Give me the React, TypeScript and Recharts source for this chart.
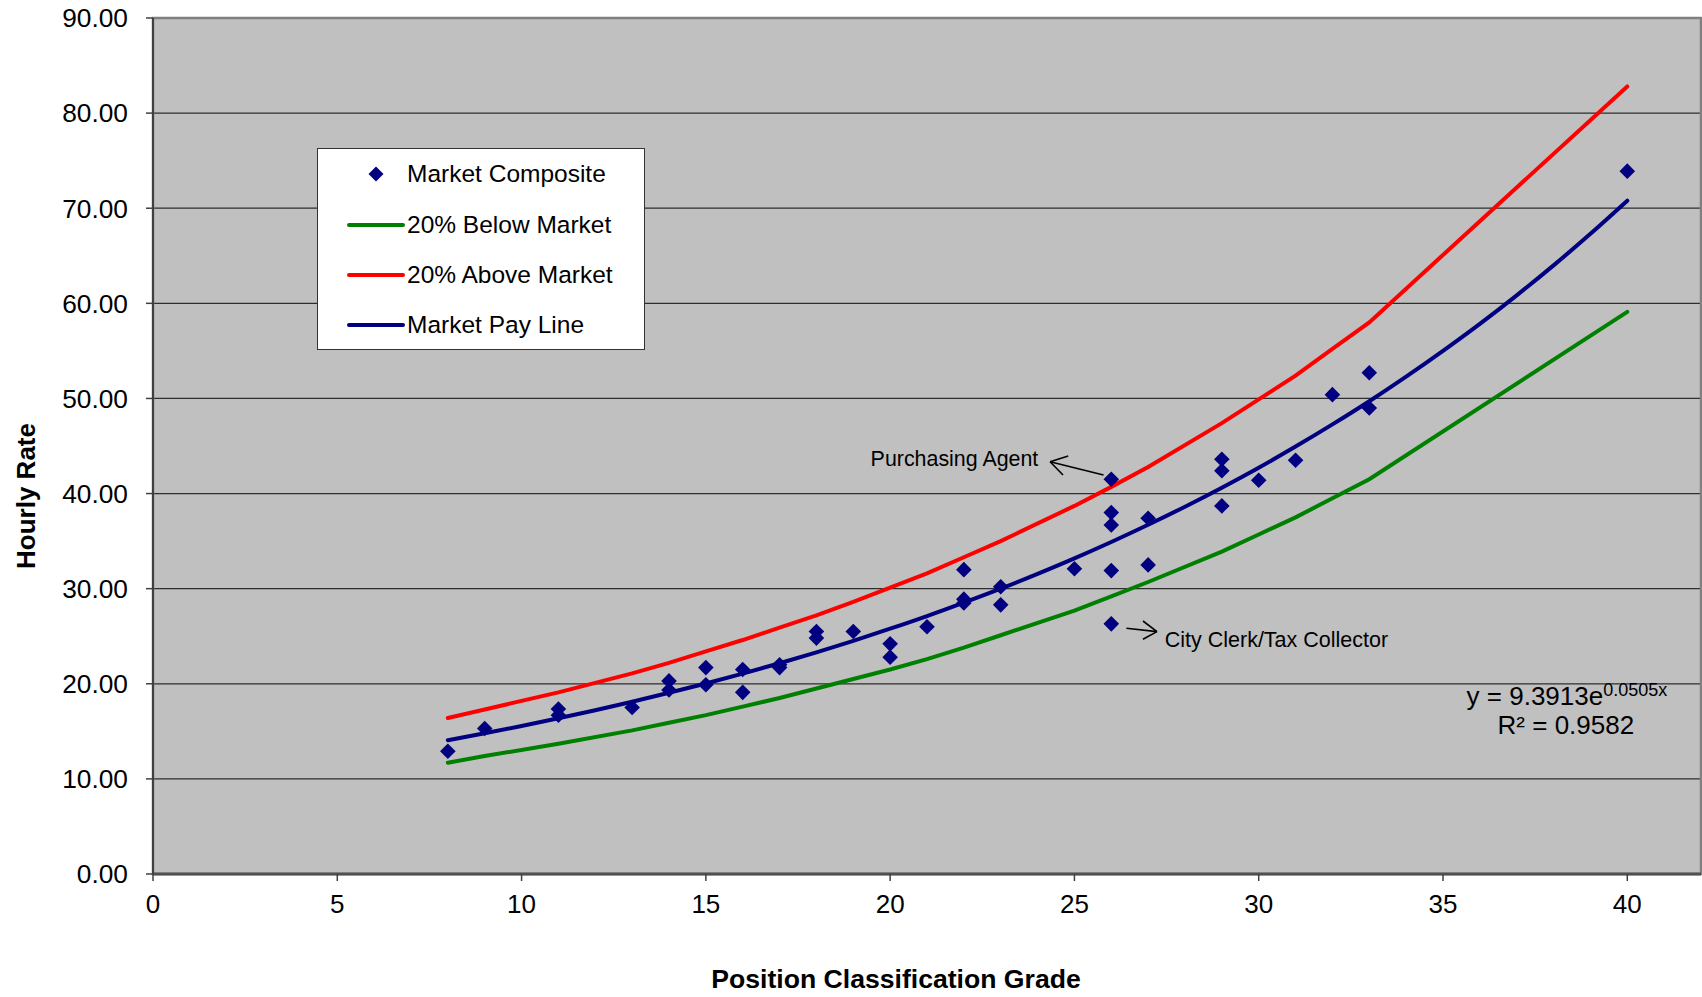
import React from 'react';
import {
  ComposedChart,
  Line,
  Scatter,
  XAxis,
  YAxis,
  CartesianGrid,
  Legend,
  ReferenceArea,
  ReferenceLine,
  ReferenceDot,
} from 'recharts';

const FONT = '"Liberation Sans", Arial, Helvetica, sans-serif';

// ---- tick labels ----
const gradeTicks = [0, 5, 10, 15, 20, 25, 30, 35, 40];
const rateTicks = [0, 10, 20, 30, 40, 50, 60, 70, 80, 90];

// ---- Market Composite (scatter) ----
const compositeGrades = [
  8, 9, 11, 11, 13, 14, 14, 15, 15, 16, 16, 17, 17, 18, 18, 19, 20, 20, 21, 22, 22, 22, 23, 23, 25,
  26, 26, 26, 26, 26, 27, 27, 29, 29, 29, 30, 31, 32, 33, 33, 40,
];
const compositeRates = [
  12.9, 15.3, 17.35, 16.7, 17.5, 20.3, 19.35, 21.7, 19.9, 21.5, 19.1, 22.0, 21.7, 25.5, 24.8, 25.5,
  24.2, 22.8, 26.0, 32.0, 28.9, 28.5, 30.2, 28.3, 32.1, 41.5, 38.0, 36.7, 31.9, 26.3, 37.4, 32.5,
  43.6, 42.4, 38.7, 41.4, 43.5, 50.4, 52.7, 49.0, 73.9,
];

// ---- 20% bands (line series) ----
const bandGrades = [8, 9, 11, 13, 14, 15, 16, 17, 18, 19, 20, 21, 22, 23, 25, 26, 27, 29, 30, 31, 32, 33, 40];
const aboveRates = [
  16.4, 17.3, 19.1, 21.1, 22.2, 23.4, 24.6, 25.9, 27.2, 28.6, 30.1, 31.6, 33.3, 35.0, 38.7, 40.7,
  42.8, 47.4, 49.9, 52.4, 55.2, 58.0, 82.8,
];
const belowRates = [
  11.7, 12.4, 13.7, 15.1, 15.9, 16.7, 17.6, 18.5, 19.5, 20.5, 21.5, 22.6, 23.8, 25.1, 27.7, 29.2,
  30.7, 33.9, 35.7, 37.5, 39.5, 41.5, 59.1,
];

// ---- Market Pay Line (trend) ----
const payGrades = [
  8, 9, 10, 11, 12, 13, 14, 15, 16, 17, 18, 19, 20, 21, 22, 23, 24, 25, 26, 27, 28, 29, 30, 31, 32,
  33, 34, 35, 36, 37, 38, 39, 40,
];
const payRates = [
  14.07, 14.8, 15.56, 16.37, 17.21, 18.11, 19.05, 20.03, 21.07, 22.16, 23.31, 24.52, 25.79, 27.12,
  28.53, 30.0, 31.56, 33.19, 34.91, 36.72, 38.62, 40.62, 42.72, 44.94, 47.27, 49.71, 52.29, 55.0,
  57.84, 60.84, 63.99, 67.31, 70.79,
];

const LEGEND_ORDER = ['Market Composite', '20% Below Market', '20% Above Market', 'Market Pay Line'];

const compositeData = compositeGrades.map((g, i) => ({ grade: g, rate: compositeRates[i] }));
const aboveData = bandGrades.map((g, i) => ({ grade: g, rate: aboveRates[i] }));
const belowData = bandGrades.map((g, i) => ({ grade: g, rate: belowRates[i] }));
const payData = payGrades.map((g, i) => ({ grade: g, rate: payRates[i] }));

const NAVY = '#000080';
const GREEN = '#008000';
const RED = '#FF0000';

const Diamond = (props: any) => {
  const { cx, cy } = props;
  if (cx == null || cy == null) return null;
  const r = 7.8;
  return <path d={`M${cx},${cy - r}L${cx + r},${cy}L${cx},${cy + r}L${cx - r},${cy}Z`} fill={NAVY} />;
};

const LegendBox = (props: any) => {
  const payload = [...(props.payload || [])].sort(
    (a: any, b: any) => LEGEND_ORDER.indexOf(a.value) - LEGEND_ORDER.indexOf(b.value)
  );
  return (
    <div
      style={{
        width: 328,
        height: 202,
        boxSizing: 'border-box',
        background: '#ffffff',
        border: '1.5px solid #333333',
        position: 'relative',
        fontFamily: FONT,
        fontSize: 24.5,
        color: '#000',
      }}
    >
      {payload.map((it: any, i: number) => {
        const isDot = it.value === 'Market Composite';
        return (
          <div
            key={it.value}
            style={{
              position: 'absolute',
              left: 0,
              top: 25.3 + i * 50.3 - 15,
              height: 30,
              display: 'flex',
              alignItems: 'center',
              whiteSpace: 'nowrap',
            }}
          >
            <svg width={89} height={30} style={{ display: 'block' }}>
              {isDot ? (
                <path d="M58,7.5L65.5,15L58,22.5L50.5,15Z" fill={it.color || NAVY} />
              ) : (
                <line x1={31} y1={15} x2={85} y2={15} stroke={it.color} strokeWidth={4} strokeLinecap="round" />
              )}
            </svg>
            <span style={{ lineHeight: '30px' }}>{it.value}</span>
          </div>
        );
      })}
    </div>
  );
};

const textLabel =
  (text: string, anchor: 'start' | 'end', size: number) =>
  (p: any) => {
    const vb = p.viewBox || {};
    const cx = (vb.x ?? 0) + (vb.width ?? 0) / 2;
    const cy = (vb.y ?? 0) + (vb.height ?? 0) / 2;
    return (
      <text x={cx} y={cy} textAnchor={anchor} dominantBaseline="central" fontFamily={FONT} fontSize={size} fill="#000">
        {text}
      </text>
    );
  };

const equationLabel = (p: any) => {
  const vb = p.viewBox || {};
  const cx = (vb.x ?? 0) + (vb.width ?? 0) / 2;
  const cy = (vb.y ?? 0) + (vb.height ?? 0) / 2;
  return (
    <g>
      <text x={cx} y={cy} fontFamily={FONT} fontSize={26} fill="#000">
        y = 9.3913e
        <tspan fontSize={18} dy={-8.5}>
          0.0505x
        </tspan>
      </text>
      <text x={cx + 31} y={cy + 29} fontFamily={FONT} fontSize={26} fill="#000">
        R² = 0.9582
      </text>
    </g>
  );
};

const arrowStyle = { stroke: '#000', strokeWidth: 1.6 };

export default function App() {
  return (
    <div style={{ position: 'absolute', left: 0, top: 0, width: 1702, height: 997, background: '#fff' }}>
      <ComposedChart width={1702} height={997} margin={{ top: 18, right: 1, bottom: 0, left: 0 }}>
        <CartesianGrid horizontal vertical={false} fill="#C0C0C0" fillOpacity={1} stroke="#2e2e2e" strokeWidth={1.3} />
        <XAxis
          type="number"
          dataKey="grade"
          domain={[0, 42]}
          ticks={gradeTicks}
          interval={0}
          allowDataOverflow
          height={123}
          tickSize={7}
          tickMargin={14}
          axisLine={{ stroke: '#505050', strokeWidth: 3 }}
          tickLine={{ stroke: '#404040', strokeWidth: 1.5 }}
          tick={{ fill: '#000', fontSize: 26, fontFamily: FONT }}
          label={{
            content: (p: any) => {
              const vb = p.viewBox || {};
              return (
                <text
                  x={vb.x + vb.width / 2 - 31}
                  y={vb.y + 114}
                  textAnchor="middle"
                  fontFamily={FONT}
                  fontWeight="bold"
                  fontSize={26.6}
                  fill="#000"
                >
                  Position Classification Grade
                </text>
              );
            },
          }}
        />
        <YAxis
          type="number"
          dataKey="rate"
          domain={[0, 90]}
          ticks={rateTicks}
          interval={0}
          allowDataOverflow
          width={153}
          tickSize={7}
          tickMargin={18}
          tickFormatter={(v: number) => v.toFixed(2)}
          axisLine={{ stroke: '#404040', strokeWidth: 2 }}
          tickLine={{ stroke: '#404040', strokeWidth: 1.5 }}
          tick={{ fill: '#000', fontSize: 26.3, fontFamily: FONT }}
          label={{
            content: (p: any) => {
              const vb = p.viewBox || {};
              const x = (vb.x ?? 0) + 26;
              const y = (vb.y ?? 0) + (vb.height ?? 0) / 2 + 50;
              return (
                <text
                  x={x}
                  y={y}
                  transform={`rotate(-90, ${x}, ${y})`}
                  textAnchor="middle"
                  dominantBaseline="central"
                  fontFamily={FONT}
                  fontWeight="bold"
                  fontSize={26}
                  fill="#000"
                >
                  Hourly Rate
                </text>
              );
            },
          }}
        />
        <ReferenceArea x1={0} x2={42} y1={0} y2={90} fill="none" fillOpacity={0} stroke="#808080" strokeWidth={2.5} />

        <Line
          data={belowData}
          dataKey="rate"
          name="20% Below Market"
          type="linear"
          stroke={GREEN}
          strokeWidth={4}
          strokeLinecap="round"
          dot={false}
          activeDot={false}
          legendType="line"
          isAnimationActive={false}
        />
        <Line
          data={aboveData}
          dataKey="rate"
          name="20% Above Market"
          type="linear"
          stroke={RED}
          strokeWidth={4}
          strokeLinecap="round"
          dot={false}
          activeDot={false}
          legendType="line"
          isAnimationActive={false}
        />
        <Line
          data={payData}
          dataKey="rate"
          name="Market Pay Line"
          type="monotone"
          stroke={NAVY}
          strokeWidth={4}
          strokeLinecap="round"
          dot={false}
          activeDot={false}
          legendType="line"
          isAnimationActive={false}
        />
        <Scatter
          data={compositeData}
          dataKey="rate"
          name="Market Composite"
          fill={NAVY}
          shape={Diamond}
          legendType="diamond"
          isAnimationActive={false}
        />

        {/* Purchasing Agent arrow */}
        <ReferenceLine segment={[{ x: 25.79, y: 41.95 }, { x: 24.34, y: 43.35 }]} {...arrowStyle} />
        <ReferenceLine segment={[{ x: 24.34, y: 43.35 }, { x: 24.69, y: 41.95 }]} {...arrowStyle} />
        <ReferenceLine segment={[{ x: 24.34, y: 43.35 }, { x: 24.83, y: 43.95 }]} {...arrowStyle} />
        <ReferenceDot
          x={24.02}
          y={43.63}
          r={1}
          fill="none"
          stroke="none"
          label={{ content: textLabel('Purchasing Agent', 'end', 21.4) }}
        />

        {/* City Clerk arrow */}
        <ReferenceLine segment={[{ x: 26.41, y: 25.83 }, { x: 27.24, y: 25.48 }]} {...arrowStyle} />
        <ReferenceLine segment={[{ x: 27.24, y: 25.48 }, { x: 26.86, y: 26.6 }]} {...arrowStyle} />
        <ReferenceLine segment={[{ x: 27.24, y: 25.48 }, { x: 26.86, y: 24.68 }]} {...arrowStyle} />
        <ReferenceDot
          x={27.45}
          y={24.6}
          r={1}
          fill="none"
          stroke="none"
          label={{ content: textLabel('City Clerk/Tax Collector', 'start', 21.5) }}
        />

        {/* Trend equation */}
        <ReferenceDot x={35.64} y={17.77} r={1} fill="none" stroke="none" label={{ content: equationLabel }} />

        <Legend
          content={LegendBox}
          layout="vertical"
          align="center"
          verticalAlign="middle"
          wrapperStyle={{ position: 'absolute', left: 317, top: 148, width: 328, height: 202 }}
        />
      </ComposedChart>
    </div>
  );
}
